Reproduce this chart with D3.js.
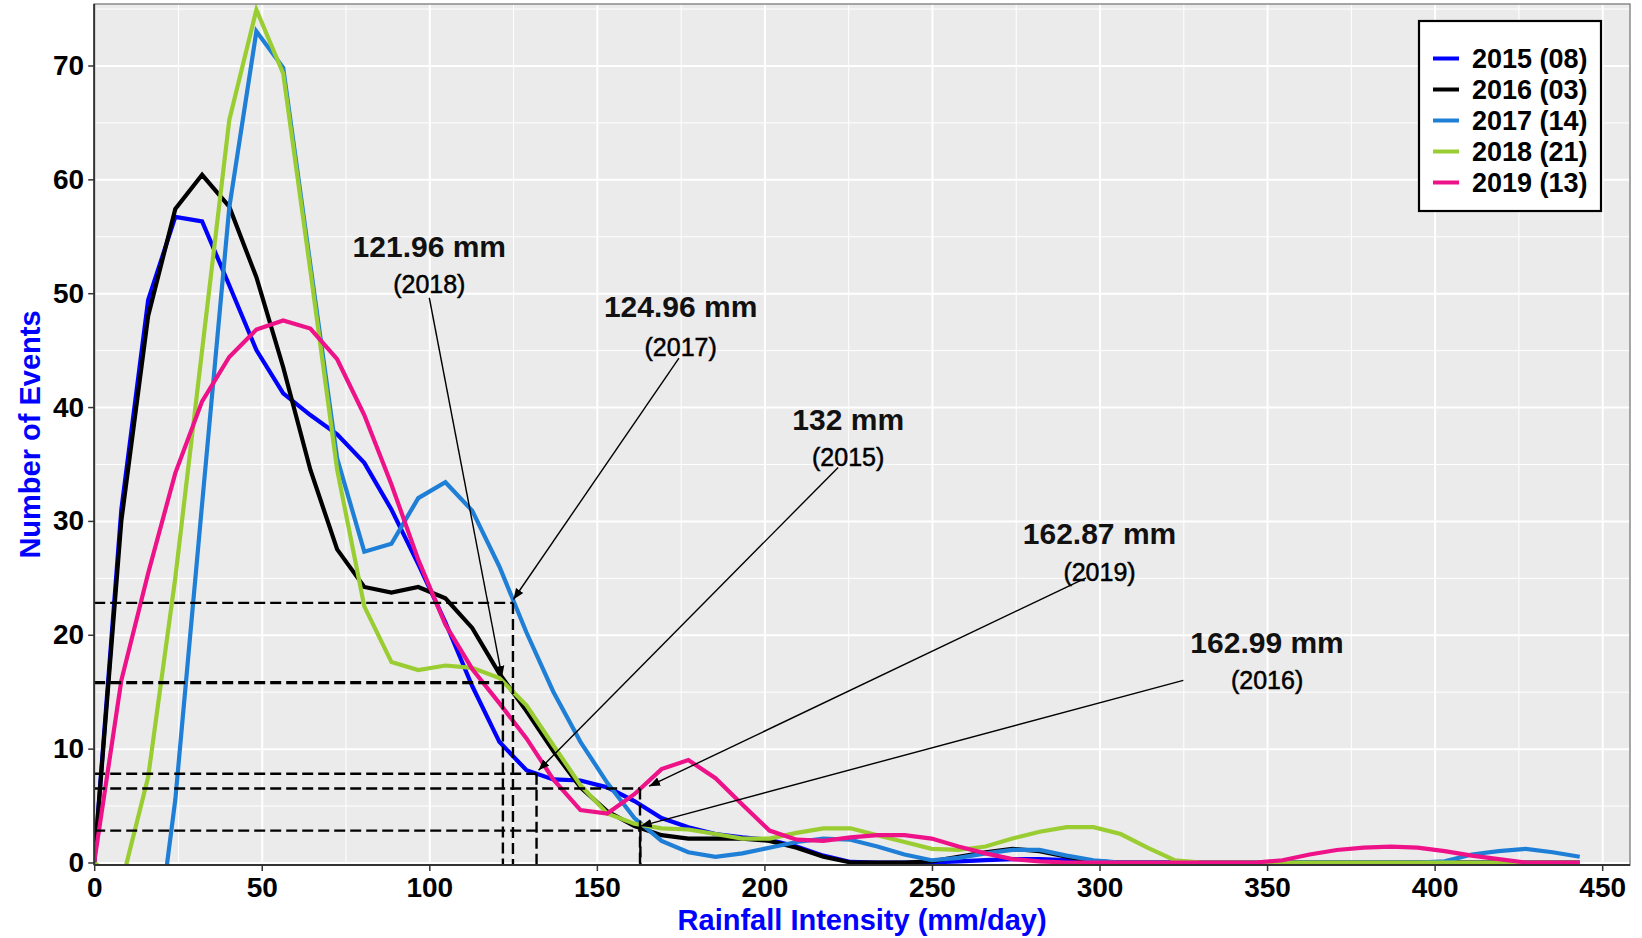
<!DOCTYPE html>
<html>
<head>
<meta charset="utf-8">
<script src="https://d3js.org/d3.v7.min.js"></script>
<style>
  body { margin: 0; background: #fff; }
  text { font-family: "Liberation Sans", Arial, Helvetica, sans-serif; }
</style>
</head>
<body>
<script>
// rainfall intensity bins (mm/day)
const rainfall = [0, 8.1, 16.1, 24.2, 32.2, 40.3, 48.4, 56.4, 64.5, 72.5, 80.6, 88.7, 96.7, 104.8,
  112.8, 120.9, 129.0, 137.0, 145.1, 153.1, 161.2, 169.3, 177.3, 185.4, 193.4, 201.5, 209.6, 217.6,
  225.7, 233.7, 241.8, 249.9, 257.9, 266.0, 274.0, 282.1, 290.2, 298.2, 306.3, 314.3, 322.4, 330.5,
  338.5, 346.6, 354.6, 362.7, 370.8, 378.8, 386.9, 394.9, 403.0, 411.1, 419.1, 427.2, 435.2, 443.3];

// number of events per year
const events2015 = [0, 31, 49.4, 56.7, 56.3, 50.7, 45.0, 41.2, 39.3, 37.6, 35.1, 31.0, 26.2, 21.1,
  15.5, 10.6, 8.1, 7.3, 7.2, 6.6, 5.4, 3.9, 3.1, 2.5, 2.2, 2.0, 1.4, 0.6,
  0.05, 0, 0, 0, 0.1, 0.2, 0.3, 0.3, 0.2, 0.1, 0, 0, 0, 0,
  0, 0, 0, 0, 0, 0, 0, 0, 0, 0, 0, 0, 0, 0];
const events2016 = [0, 30, 48.0, 57.4, 60.4, 57.6, 51.4, 43.5, 34.5, 27.5, 24.2, 23.7, 24.2, 23.2,
  20.6, 16.6, 13.3, 9.8, 6.6, 4.5, 3.2, 2.4, 2.1, 2.1, 2.1, 1.9, 1.3, 0.5,
  0, 0, 0, 0.1, 0.5, 0.9, 1.2, 1.0, 0.5, 0.1, 0, 0, 0, 0,
  0, 0, 0, 0, 0, 0, 0, 0, 0, 0, 0, 0, 0, 0];
const events2017 = [-3, -8, -13, 5.5, 31.5, 57.5, 73.0, 69.8, 52.5, 35.5, 27.3, 28.0, 32.0, 33.4,
  30.9, 26.0, 20.2, 15.0, 10.6, 7.0, 3.9, 1.9, 0.9, 0.5, 0.8, 1.3, 1.8, 2.1,
  2.0, 1.4, 0.7, 0.2, 0.4, 0.8, 1.1, 1.1, 0.6, 0.2, 0, 0, 0, 0,
  0, 0, 0, 0, 0, 0, 0, 0, 0.1, 0.7, 1.0, 1.2, 0.9, 0.5];
const events2018 = [0, -1.9, 7.5, 25.0, 45.0, 65.2, 74.9, 69.3, 52.0, 34.5, 22.5, 17.6, 16.9, 17.3,
  17.1, 16.2, 13.8, 10.3, 6.8, 4.3, 3.4, 3.0, 2.9, 2.5, 2.1, 2.1, 2.6, 3.0,
  3.0, 2.4, 1.8, 1.2, 1.1, 1.4, 2.1, 2.7, 3.1, 3.1, 2.5, 1.3, 0.2, 0,
  0, 0, 0, 0, 0, 0, 0, 0, 0, 0, 0, 0, 0, 0];
const events2019 = [0, 16.0, 25.4, 34.2, 40.5, 44.4, 46.8, 47.6, 46.9, 44.2, 39.3, 33.2, 26.6, 20.9,
  17.0, 14.0, 10.9, 7.3, 4.6, 4.3, 6.0, 8.2, 9.0, 7.4, 5.1, 2.8, 2.0, 1.9,
  2.2, 2.4, 2.4, 2.1, 1.4, 0.8, 0.3, 0.1, 0, 0, 0, 0, 0, 0,
  0, 0, 0.2, 0.7, 1.1, 1.3, 1.4, 1.3, 1.0, 0.6, 0.3, 0, 0, 0];

const seriesNames = ['2015 (08)', '2016 (03)', '2017 (14)', '2018 (21)', '2019 (13)'];
const seriesColors = ['#0000ff', '#000000', '#1f7fd6', '#9acd32', '#ee1289'];
const seriesValues = [events2015, events2016, events2017, events2018, events2019];

// threshold annotations
const annoValues = ['121.96 mm', '124.96 mm', '132 mm', '162.87 mm', '162.99 mm'];
const annoYears = ['(2018)', '(2017)', '(2015)', '(2019)', '(2016)'];
const annoX = [100, 175, 225, 300, 350];
const annoY = [53.2, 47.9, 38.0, 28.0, 18.4];
const yearY = [50.0, 44.5, 34.8, 24.7, 15.2];
const arrowFromX = [100, 174.5, 222, 296, 325];
const arrowFromY = [49.6, 44.3, 34.7, 25.0, 16.0];
const arrowToX = [121.7, 125.1, 132.6, 165.6, 163.1];
const arrowToY = [16.3, 23.1, 8.1, 6.7, 3.2];
const thresholdX = [121.96, 124.96, 132, 162.87, 162.99];
const thresholdY = [15.8, 22.8, 7.8, 6.5, 2.8];

const xTicks = [0, 50, 100, 150, 200, 250, 300, 350, 400, 450];
const xMinor = [25, 75, 125, 175, 225, 275, 325, 375, 425];
const yTicks = [0, 10, 20, 30, 40, 50, 60, 70];
const yMinor = [5, 15, 25, 35, 45, 55, 65, 75];

// layout
const W = 1642, H = 938;
const panel = { left: 94.2, right: 1630, top: 4, bottom: 865 };

const svg = d3.select('body').append('svg')
  .attr('width', W)
  .attr('height', H);

const x = d3.scaleLinear().domain([0, 458.3]).range([panel.left, panel.right]);
const y = d3.scaleLinear().domain([-0.22, 75.4]).range([panel.bottom, panel.top]);

// panel background
svg.append('rect')
  .attr('x', panel.left).attr('y', panel.top)
  .attr('width', panel.right - panel.left).attr('height', panel.bottom - panel.top)
  .style('fill', '#ebebeb');

svg.append('clipPath').attr('id', 'clip')
  .append('rect')
  .attr('x', panel.left).attr('y', panel.top)
  .attr('width', panel.right - panel.left).attr('height', panel.bottom - panel.top);

// gridlines (minor then major)
const ph = panel.bottom - panel.top, pw = panel.right - panel.left;
svg.append('g')
  .attr('transform', `translate(0,${panel.bottom})`)
  .call(d3.axisBottom(x).tickValues(xMinor).tickSize(-ph).tickFormat(''))
  .call(g => g.select('.domain').remove())
  .selectAll('line').style('stroke', '#fff').style('stroke-width', 1);
svg.append('g')
  .attr('transform', `translate(${panel.left},0)`)
  .call(d3.axisLeft(y).tickValues(yMinor).tickSize(-pw).tickFormat(''))
  .call(g => g.select('.domain').remove())
  .selectAll('line').style('stroke', '#fff').style('stroke-width', 1);
svg.append('g')
  .attr('transform', `translate(0,${panel.bottom})`)
  .call(d3.axisBottom(x).tickValues(xTicks).tickSize(-ph).tickFormat(''))
  .call(g => g.select('.domain').remove())
  .selectAll('line').style('stroke', '#fff').style('stroke-width', 2);
svg.append('g')
  .attr('transform', `translate(${panel.left},0)`)
  .call(d3.axisLeft(y).tickValues(yTicks).tickSize(-pw).tickFormat(''))
  .call(g => g.select('.domain').remove())
  .selectAll('line').style('stroke', '#fff').style('stroke-width', 2);

// series lines
const line = d3.line()
  .x(d => x(d[0]))
  .y(d => y(d[1]));

const lines = svg.append('g').attr('clip-path', 'url(#clip)');
seriesValues.forEach((vals, i) => {
  lines.append('path')
    .datum(rainfall.map((r, j) => [r, vals[j]]))
    .attr('d', line)
    .style('fill', 'none')
    .style('stroke', seriesColors[i])
    .style('stroke-width', 4.2)
    .style('stroke-linejoin', 'miter');
});

// dashed threshold guides
const guides = svg.append('g').attr('clip-path', 'url(#clip)');
thresholdX.forEach((tx, i) => {
  const w = i === 0 ? 3.2 : 2.4;
  guides.append('line')
    .attr('x1', x(0)).attr('x2', x(tx))
    .attr('y1', y(thresholdY[i])).attr('y2', y(thresholdY[i]))
    .style('stroke', '#000').style('stroke-width', w).style('stroke-dasharray', '11,5');
  guides.append('line')
    .attr('x1', x(tx)).attr('x2', x(tx))
    .attr('y1', y(thresholdY[i])).attr('y2', y(0) + 3)
    .style('stroke', '#000').style('stroke-width', 2.4).style('stroke-dasharray', '11,5');
});

// arrows
svg.append('defs').append('marker')
  .attr('id', 'arrow')
  .attr('viewBox', '0 0 10 10')
  .attr('refX', 10).attr('refY', 5)
  .attr('markerWidth', 11).attr('markerHeight', 11)
  .attr('markerUnits', 'userSpaceOnUse')
  .attr('orient', 'auto')
  .append('path')
  .attr('d', 'M0,1 L10,5 L0,9 Z')
  .style('fill', '#000');

annoValues.forEach((lab, i) => {
  svg.append('line')
    .attr('x1', x(arrowFromX[i])).attr('y1', y(arrowFromY[i]))
    .attr('x2', x(arrowToX[i])).attr('y2', y(arrowToY[i]))
    .style('stroke', '#000').style('stroke-width', 1.4)
    .attr('marker-end', 'url(#arrow)');

  svg.append('text')
    .attr('x', x(annoX[i])).attr('y', y(annoY[i]))
    .style('text-anchor', 'middle')
    .style('font-size', '30px').style('font-weight', 'bold')
    .style('fill', '#111')
    .text(lab);

  svg.append('text')
    .attr('x', x(annoX[i])).attr('y', y(yearY[i]))
    .style('text-anchor', 'middle')
    .style('font-size', '25px')
    .style('fill', '#000')
    .style('stroke', '#000').style('stroke-width', 0.5)
    .text(annoYears[i]);
});

// panel border and axis lines
svg.append('rect')
  .attr('x', panel.left).attr('y', panel.top)
  .attr('width', pw).attr('height', ph)
  .style('fill', 'none').style('stroke', '#8a8a8a').style('stroke-width', 1.5);

const xAxis = svg.append('g')
  .attr('transform', `translate(0,${panel.bottom})`)
  .call(d3.axisBottom(x).tickValues(xTicks).tickSize(6).tickPadding(5).tickSizeOuter(0));
xAxis.select('.domain').attr('d', `M${panel.left},0H${panel.right}`).style('stroke', '#333').style('stroke-width', 2);
xAxis.selectAll('.tick line').style('stroke', '#333').style('stroke-width', 1.5);
xAxis.selectAll('.tick text')
  .style('font-size', '28px').style('font-weight', 'bold').style('fill', '#000')
  .attr('dy', '0.75em');

const yAxis = svg.append('g')
  .attr('transform', `translate(${panel.left},0)`)
  .call(d3.axisLeft(y).tickValues(yTicks).tickSize(6).tickPadding(4).tickSizeOuter(0));
yAxis.select('.domain').attr('d', `M0,${panel.top}V${panel.bottom}`).style('stroke', '#333').style('stroke-width', 2);
yAxis.selectAll('.tick line').style('stroke', '#333').style('stroke-width', 1.5);
yAxis.selectAll('.tick text')
  .style('font-size', '28px').style('font-weight', 'bold').style('fill', '#000');

// axis titles
svg.append('text')
  .attr('x', (panel.left + panel.right) / 2).attr('y', 930)
  .style('text-anchor', 'middle')
  .style('font-size', '29px').style('font-weight', 'bold').style('fill', '#0000ff')
  .text('Rainfall Intensity (mm/day)');

svg.append('text')
  .attr('transform', `translate(30,${(panel.top + panel.bottom) / 2}) rotate(-90)`)
  .attr('dy', '0.35em')
  .style('text-anchor', 'middle')
  .style('font-size', '29px').style('font-weight', 'bold').style('fill', '#0000ff')
  .text('Number of Events');

// legend
const legend = svg.append('g');
legend.append('rect')
  .attr('x', 1419).attr('y', 21).attr('width', 182).attr('height', 190)
  .style('fill', '#fff').style('stroke', '#000').style('stroke-width', 2.2);
seriesNames.forEach((name, i) => {
  const ly = 58.5 + i * 31;
  legend.append('line')
    .attr('x1', 1433).attr('x2', 1459).attr('y1', ly).attr('y2', ly)
    .style('stroke', seriesColors[i]).style('stroke-width', 4);
  legend.append('text')
    .attr('x', 1472).attr('y', ly).attr('dy', '0.35em')
    .style('font-size', '27px').style('font-weight', 'bold').style('fill', '#000')
    .text(name);
});
</script>
</body>
</html>
